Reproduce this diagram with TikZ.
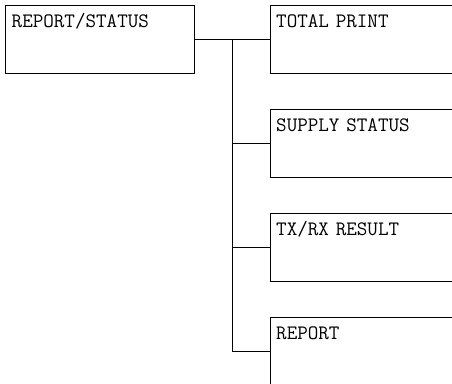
\documentclass[tikz,border=0pt]{standalone}
\usetikzlibrary{positioning}

\begin{document}
\begin{tikzpicture}[x=1pt,y=-1pt,line width=1.4pt,
	menubox/.style={draw, anchor=north west, inner xsep=6pt, inner ysep=0pt,
		text height=22pt, text depth=46pt, font=\ttfamily\fontsize{20.5}{21}\selectfont},
	leftbox/.style={menubox, text width=177pt},
	rightbox/.style={menubox, text width=300pt}]

\useasboundingbox (0,0) rectangle (452,383);
\clip (0,0) rectangle (452,383);

% the main menu entry
\node[leftbox] (rs) at (5,5) {REPORT/STATUS};

% the sub menu entries
\node[rightbox] (tp) at (269.5,5) {TOTAL PRINT};
\node[rightbox] (ss) at (269.5,109) {SUPPLY STATUS};
\node[rightbox] (tx) at (269.5,213) {TX/RX RESULT};
\node[rightbox] (rp) at (269.5,317) {REPORT};

% the tree lines
\coordinate (j0) at (232.5,0 |- rs.east);
\draw (rs.east) -- (tp.west);
\draw (j0) |- (rp.west);
\foreach \n in {ss,tx}
	\draw (j0 |- \n.west) -- (\n.west);
\end{tikzpicture}
\end{document}
